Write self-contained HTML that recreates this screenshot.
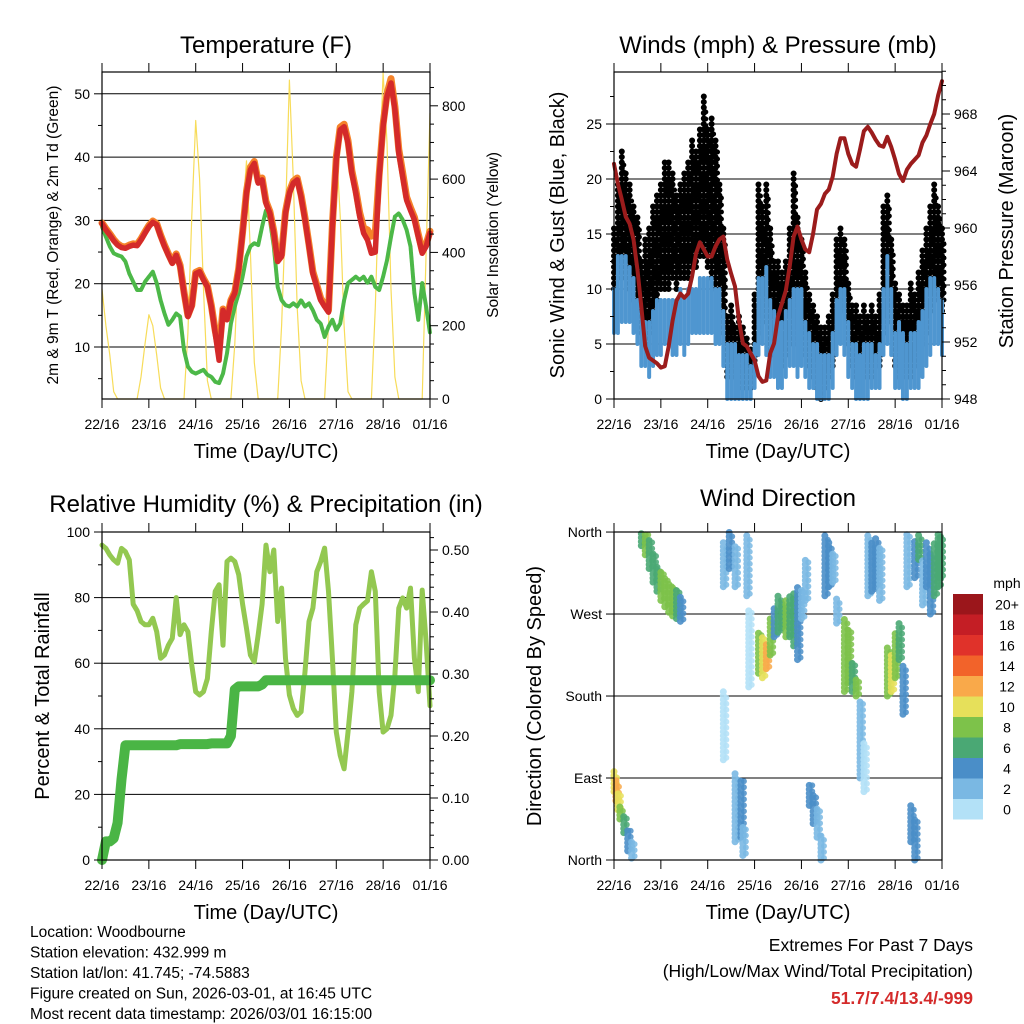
<!DOCTYPE html>
<html><head><meta charset="utf-8"><style>
html,body{margin:0;padding:0;background:#fff;}
svg{display:block;font-family:"Liberation Sans",Arial,sans-serif;}
</style></head><body>
<svg id="chart" width="1024" height="1024" viewBox="0 0 1024 1024" xmlns="http://www.w3.org/2000/svg">
<text x="266" y="53" font-size="24" text-anchor="middle">Temperature (F)</text>
<text x="778" y="53" font-size="24" text-anchor="middle">Winds (mph) &amp; Pressure (mb)</text>
<text x="266" y="512" font-size="24" text-anchor="middle">Relative Humidity (%) &amp; Precipitation (in)</text>
<text x="778" y="506" font-size="24" text-anchor="middle">Wind Direction</text>
<text transform="translate(58,235) rotate(-90)" font-size="15.5" text-anchor="middle">2m &amp; 9m T (Red, Orange) &amp; 2m Td (Green)</text>
<text transform="translate(498,235) rotate(-90)" font-size="15.5" text-anchor="middle">Solar Insolation (Yellow)</text>
<text transform="translate(564,235) rotate(-90)" font-size="20" text-anchor="middle">Sonic Wind &amp; Gust (Blue, Black)</text>
<text transform="translate(1013,231) rotate(-90)" font-size="20" text-anchor="middle">Station Pressure (Maroon)</text>
<text transform="translate(49,696) rotate(-90)" font-size="20" text-anchor="middle">Percent &amp; Total Rainfall</text>
<text transform="translate(541,696) rotate(-90)" font-size="20" text-anchor="middle">Direction (Colored By Speed)</text>
<text x="266" y="458" font-size="20" text-anchor="middle">Time (Day/UTC)</text>
<text x="778" y="458" font-size="20" text-anchor="middle">Time (Day/UTC)</text>
<text x="266" y="919" font-size="20" text-anchor="middle">Time (Day/UTC)</text>
<text x="778" y="919" font-size="20" text-anchor="middle">Time (Day/UTC)</text>
<g font-size="15.5">
<text x="30" y="937">Location: Woodbourne</text>
<text x="30" y="957.5">Station elevation: 432.999 m</text>
<text x="30" y="978">Station lat/lon: 41.745; -74.5883</text>
<text x="30" y="998.5">Figure created on Sun, 2026-03-01, at 16:45 UTC</text>
<text x="30" y="1019">Most recent data timestamp: 2026/03/01 16:15:00</text>
</g>
<text x="973" y="951" font-size="17.5" text-anchor="end">Extremes For Past 7 Days</text>
<text x="973" y="977" font-size="17.5" text-anchor="end">(High/Low/Max Wind/Total Precipitation)</text>
<text x="973" y="1004" font-size="17.5" font-weight="bold" fill="#d42a2a" text-anchor="end">51.7/7.4/13.4/-999</text>
</svg>
<script>
const dayLabels = ["22/16","23/16","24/16","25/16","26/16","27/16","28/16","01/16"];
const hours = Array.from({length:85},(_, i)=>i*2);
const tempRed = [29.5,28.5,27.7,26.8,26.1,25.7,25.6,25.9,26.1,26.0,26.9,28.0,29.0,29.7,29.3,27.5,25.9,24.5,23.2,24.5,22.7,18.5,14.8,16.4,21.6,21.9,20.6,19.5,16.4,12.2,7.9,15.8,14.3,17.2,18.5,22.2,28.0,34.3,38.0,39.0,35.9,36.4,32.7,31.1,28.0,23.5,24.3,31.1,34.3,35.9,36.4,33.7,30.1,25.9,21.6,19.5,17.4,16.4,15.5,29.0,39.6,44.3,44.8,42.2,37.4,34.3,30.6,28.0,26.9,24.8,25.0,36.9,44.8,49.6,51.7,47.5,40.6,36.9,33.2,31.6,30.1,27.4,24.8,25.9,28.0];
const tempOrange = [29.6,28.7,27.9,27.0,26.3,25.9,25.8,26.1,26.3,26.2,27.1,28.2,29.2,29.9,29.5,27.7,26.1,24.7,23.4,24.7,22.9,18.7,15.0,16.6,21.8,22.1,20.8,19.7,16.6,12.6,9.5,16.0,14.5,17.4,18.7,22.4,28.2,34.6,38.4,39.3,36.2,36.7,33.0,31.4,28.3,23.8,24.6,31.4,34.6,36.2,36.7,34.0,30.4,26.2,21.9,19.8,17.7,16.7,15.8,29.3,40.0,44.7,45.2,42.6,37.8,34.8,31.2,28.8,28.5,27.5,28.0,37.3,45.2,50.0,52.4,48.0,41.2,37.5,33.7,32.0,30.5,27.8,25.2,26.2,28.3];
const dewGreen = [29.0,27.4,25.9,24.8,24.5,24.3,23.5,21.6,20.3,19.0,19.0,20.3,21.1,21.9,20.1,17.4,15.3,13.5,14.3,15.3,14.8,9.5,6.9,6.1,5.8,6.1,6.4,5.6,5.3,4.5,4.3,5.8,9.0,13.7,16.4,18.5,21.1,24.3,25.9,26.4,26.1,29.0,31.6,30.1,25.9,19.5,17.4,16.6,16.4,16.9,16.4,17.4,16.4,16.9,15.8,14.3,13.7,11.6,13.2,14.3,12.7,13.7,17.4,20.1,20.6,21.1,20.6,21.1,20.1,21.1,19.5,19.0,21.1,23.7,27.4,30.6,31.1,30.1,28.5,25.9,18.5,14.3,20.1,16.4,12.2];
const solar = [300,200,120,20,0,0,0,0,0,0,60,150,230,200,120,30,0,0,0,0,0,0,180,500,760,600,300,50,0,0,0,0,0,0,150,400,500,650,400,100,0,0,0,0,0,0,200,500,870,600,250,50,0,0,0,0,0,0,200,550,690,500,200,20,0,0,0,0,0,0,250,600,890,700,300,60,0,0,0,0,0,0,0,400,780];
const pressure = [964.5,963.1,962.0,960.8,960.3,959.2,957.1,954.5,951.7,950.9,950.7,950.5,950.2,950.3,951.7,953.5,954.9,955.4,955.1,955.4,956.6,958.2,959.0,958.5,958.0,958.0,958.7,959.2,959.4,957.8,956.8,955.9,953.5,951.9,951.7,951.2,950.7,949.6,949.2,949.3,951.2,951.9,953.8,954.7,955.6,957.3,959.4,960.1,959.2,958.5,958.3,959.6,961.3,961.7,962.4,962.7,963.6,965.2,966.3,966.3,965.2,964.5,964.3,965.5,966.8,967.1,966.7,966.2,965.8,965.7,966.4,965.7,964.8,963.8,963.3,964.1,964.5,964.8,965.1,966.0,966.5,967.3,968.0,969.3,970.3];
const gustLo = [10,11,12,11,10,9,8,6,5,6,7,9,10,10,10,11,10,11,11,11,12,12,13,13,12,11,10,9,6,2,2,2,2,1,2,1,3,6,8,7,4,4,3,3,4,6,5,5,6,4,3,2,1,0,1,2,3,6,8,8,5,3,2,1,2,2,2,3,3,6,8,7,3,2,2,2,2,3,3,5,6,8,9,9,8];
const gustHi = [16,20,23,21,20,18,17,13,15,16,18,19,20,22,22,21,19,20,21,22,24,23,25,28,25,26,24,20,16,8,9,7,8,7,6,5,10,20,18,20,16,13,13,12,13,16,21,17,15,12,10,9,8,7,7,8,10,15,16,15,11,9,9,8,9,8,9,8,10,18,19,15,11,10,9,9,11,10,12,14,16,18,20,18,16];
const windLo = [6,6,7,7,7,6,5,3,3,2,3,4,4,5,5,4,4,5,4,5,6,6,6,6,6,6,5,5,3,0,0,0,0,0,0,0,1,4,5,4,2,2,1,1,2,3,3,2,3,2,1,1,0,0,0,0,1,4,5,4,2,1,0,0,0,0,1,1,1,4,5,4,1,1,0,0,1,1,1,2,3,4,5,5,4];
const windHi = [10,13,13,13,12,11,9,8,7,7,8,9,9,9,9,9,9,10,9,10,10,10,11,11,11,11,10,10,8,5,5,5,4,4,4,3,5,11,11,12,9,8,7,7,8,9,10,10,10,7,6,5,5,4,4,4,6,9,10,10,7,5,5,4,5,5,5,4,5,10,13,10,6,7,6,5,6,6,7,8,10,11,11,10,9];
const humidity = [96,95,93,91.5,90.5,95,94,91.5,78,76,72.7,71.7,71.7,73.7,69.6,61.5,62.5,65.5,67.6,80,68.7,71.7,69.6,59.4,51.3,50.3,51.3,55.3,69.6,81.9,83.9,65.5,91,92,91,87,78,70.6,62.5,60.4,68.7,78,96,87.9,94.5,72.7,82.9,61.5,50.3,46.2,44.1,45.2,57.4,72.7,76.8,87.9,91,95.1,81.9,61.5,39,31.9,27.8,39,51.3,71.7,76.8,78,79,87.9,81.9,51.3,39,40,44.1,56.4,76.8,79.9,76.8,82.9,61.5,51.3,82.3,66.5,47];
const precip = [0,0.03,0.03,0.035,0.06,0.13,0.185,0.185,0.185,0.185,0.185,0.185,0.185,0.185,0.185,0.185,0.185,0.185,0.185,0.185,0.187,0.187,0.187,0.187,0.187,0.187,0.187,0.187,0.188,0.188,0.188,0.188,0.188,0.20,0.275,0.28,0.28,0.28,0.28,0.28,0.28,0.283,0.29,0.29,0.29,0.29,0.29,0.29,0.29,0.29,0.29,0.29,0.29,0.29,0.29,0.29,0.29,0.29,0.29,0.29,0.29,0.29,0.29,0.29,0.29,0.29,0.29,0.29,0.29,0.29,0.29,0.29,0.29,0.29,0.29,0.29,0.29,0.29,0.29,0.29,0.29,0.29,0.29,0.29,0.29];
const dirTime = [0,1,2,3,5,7,9,14,16,18,20,22,24,26,28,30,32,34,56,56,59,62,62,65,66,68,69,74,76,78,80,82,84,86,88,90,92,94,96,98,100,102,104,106,108,110,112,114,118,120,122,124,126,128,130,132,134,136,140,142,144,146,148,150,152,154,154,156,158,160,162,164,166,167];
const dirLo = [75,65,55,45,30,10,2,345,335,320,305,295,285,278,272,268,265,262,110,300,320,300,20,25,5,290,190,205,200,210,225,245,250,255,245,245,235,220,265,285,60,40,25,0,290,300,305,260,185,195,185,180,90,75,290,295,300,285,180,185,200,220,160,300,20,310,0,330,280,300,270,290,300,310];
const dirHi = [97,88,75,62,50,35,20,360,360,355,340,325,318,310,305,300,298,290,185,350,360,345,95,90,40,360,275,250,245,240,265,280,290,285,285,290,295,300,300,330,85,75,60,30,360,350,340,290,265,255,220,200,175,130,360,350,355,345,235,225,250,260,215,360,60,350,45,360,330,350,340,350,360,355];
const dirSpeed = [11,12,10,8,6,5,3,6,8,7,7,6,8,9,9,8,7,5,1,3,4,2,3,4,2,2,1,9,10,12,8,5,6,7,8,7,6,5,3,3,5,4,3,2,4,5,3,2,8,9,7,8,2,1,3,4,4,3,9,11,8,7,4,3,4,5,4,6,2,4,5,6,7,6];
const legendLabels = ["20+","18","16","14","12","10","8","6","4","2","0"];
const legendColors = ["#9b161b","#c41e25","#e0322a","#f2632a","#f9a94a","#e6e05a","#7dc24a","#4aa874","#4a8ec8","#7ab8e3","#b3e1f7"];

const NS = "http://www.w3.org/2000/svg";
const svg = document.getElementById("chart");
function mk(tag, attrs, parent){
  const el = document.createElementNS(NS, tag);
  for (const k in attrs) el.setAttribute(k, attrs[k]);
  (parent||svg).appendChild(el);
  return el;
}
const xL = h => 102 + h*328/168;
const xR = h => 614 + h*328/168;
const yTemp = v => 347 - (v-10)*6.33;
const ySolar = v => 399 - v*0.3665;
const yWind = v => 399 - v*11;
const yPres = v => 399 - (v-948)*14.25;
const yRH = v => 860 - v*3.28;
const yPrecip = v => 860 - v*620;
const yDir = d => 860 - d*0.911;
function speedColor(s){ const i = Math.min(10, Math.floor(s/2)); return legendColors[10-i]; }

function frame(x0,y0,x1,y1,name){
  const g = mk("g",{});
  
  
  for (let i=0;i<8;i++){
    const x = x0 + i*(x1-x0)/7;
    const t1 = mk("line",{x1:x,x2:x,y1:y0,y2:y0-9,stroke:"#000","stroke-width":1},g);
    
    
    const t2 = mk("line",{x1:x,x2:x,y1:y1,y2:y1+9,stroke:"#000","stroke-width":1},g);
    
    
    const lb = mk("text",{x:x,y:y1+30,"font-size":14,"text-anchor":"middle"},g);
    
    
    lb.textContent = dayLabels[i];
  }
  return g;
}
function yAxis(vals, fy, x, side, labels, minor, name){
  const g = mk("g",{"font-size":14});
  
  
  vals.forEach((v,i)=>{
    const y = fy(v);
    const t = mk("line",{x1:x,x2:x+side*8,y1:y,y2:y,stroke:"#000"},g);
    
    
    const lb = mk("text",{x:x+side*12,y:y+5,"text-anchor":side<0?"end":"start"},g);
    
    
    lb.textContent = labels[i];
  });
  minor.forEach(v=>{
    const y = fy(v);
    const t = mk("line",{x1:x,x2:x+side*4,y1:y,y2:y,stroke:"#000"},g);
    
    
  });
}
function grid(ys, x0, x1, name){
  ys.forEach(y=>{
    const l = mk("line",{x1:x0,x2:x1,y1:y,y2:y,stroke:"#000","stroke-width":1});
    
    
  });
}
function path(xs, ys, attrs, name){
  let d = "";
  xs.forEach((x,i)=>{ d += (i?"L":"M")+x.toFixed(1)+","+ys[i].toFixed(1); });
  const p = mk("path", Object.assign({d:d,fill:"none","stroke-linejoin":"round","stroke-linecap":"round"},attrs));
  
  
  return p;
}

// ---- Panel 1: temperature
grid([10,20,30,40,50].map(yTemp),102,430,'temp-gridline');
path(hours.map(xL), solar.map(ySolar), {stroke:"#f7dc5a","stroke-width":1.2}, 'solar-line');
path(hours.map(xL), dewGreen.map(yTemp), {stroke:"#4cb848","stroke-width":4,"stroke-dasharray":"3 1"}, 'dewpoint-line');
path(hours.map(xL), tempOrange.map(yTemp), {stroke:"#f5822a","stroke-width":7}, 'temp-9m-line');
path(hours.map(xL), tempRed.map(yTemp), {stroke:"#d42a2a","stroke-width":5.5}, 'temp-2m-line');
let r1 = mk("rect",{x:102,y:72,width:328,height:327,fill:"none",stroke:"#000","stroke-width":1.2});


frame(102,72,430,399,'temp-x-axis');
yAxis([10,20,30,40,50],yTemp,102,-1,["10","20","30","40","50"],[5,15,25,35,45],'temp-left-axis');
yAxis([0,200,400,600,800],ySolar,430,1,["0","200","400","600","800"],[50,100,150,250,300,350,450,500,550,650,700,750,850],'solar-right-axis');

// ---- Panel 2: winds
grid([5,10,15,20,25].map(yWind),614,942,'wind-gridline');
hours.forEach((h,i)=>{
  const g = mk("line",{x1:xR(h),x2:xR(h),y1:yWind(gustLo[i]),y2:yWind(gustHi[i]),stroke:"#000","stroke-width":6,"stroke-linecap":"round","stroke-dasharray":"0 5.5"});
  
  
});
hours.forEach((h,i)=>{
  const g = mk("line",{x1:xR(h)+2,x2:xR(h)+2,y1:yWind(gustLo[i]+1),y2:yWind(gustHi[i]-1.5),stroke:"#000","stroke-width":5,"stroke-linecap":"round","stroke-dasharray":"0 7"});
  
  
});
hours.forEach((h,i)=>{
  const w = mk("line",{x1:xR(h),x2:xR(h),y1:yWind(windLo[i]),y2:yWind(windHi[i]),stroke:"#4f96d0","stroke-width":4,"stroke-linecap":"round"});
  
  
});
path(hours.map(xR), pressure.map(yPres), {stroke:"#9b1c1c","stroke-width":4}, 'pressure-line');
let r2 = mk("rect",{x:614,y:72,width:328,height:327,fill:"none",stroke:"#000","stroke-width":1.2});


frame(614,72,942,399,'wind-x-axis');
yAxis([0,5,10,15,20,25],yWind,614,-1,["0","5","10","15","20","25"],[2.5,7.5,12.5,17.5,22.5,27.5],'wind-left-axis');
yAxis([948,952,956,960,964,968],yPres,942,1,["948","952","956","960","964","968"],[949,950,951,953,954,955,957,958,959,961,962,963,965,966,967,969,970,971],'pressure-right-axis');

// ---- Panel 3: humidity
grid([20,40,60,80].map(yRH),102,430,'humidity-gridline');
path(hours.map(xL), humidity.map(yRH), {stroke:"#93c851","stroke-width":5}, 'humidity-line');
path(hours.map(xL), precip.map(yPrecip), {stroke:"#4ab545","stroke-width":10}, 'precip-line');
let r3 = mk("rect",{x:102,y:532,width:328,height:328,fill:"none",stroke:"#000","stroke-width":1.2});


frame(102,532,430,860,'humidity-x-axis');
yAxis([0,20,40,60,80,100],yRH,102,-1,["0","20","40","60","80","100"],[10,30,50,70,90],'humidity-left-axis');
yAxis([0,0.1,0.2,0.3,0.4,0.5],yPrecip,430,1,["0.00","0.10","0.20","0.30","0.40","0.50"],[0.02,0.04,0.06,0.08,0.12,0.14,0.16,0.18,0.22,0.24,0.26,0.28,0.32,0.34,0.36,0.38,0.42,0.44,0.46,0.48,0.52],'precip-right-axis');

// ---- Panel 4: wind direction
grid([90,180,270].map(yDir),614,942,'direction-gridline');
dirTime.forEach((t,i)=>{
  const s = mk("line",{x1:xR(t),x2:xR(t),y1:yDir(dirLo[i]),y2:yDir(dirHi[i]),stroke:speedColor(dirSpeed[i]),"stroke-width":7,"stroke-linecap":"round","stroke-dasharray":"0 4","stroke-opacity":0.9});
  
  
  const s2 = mk("line",{x1:xR(t)+3,x2:xR(t)+3,y1:yDir(dirLo[i])-2,y2:yDir(dirHi[i])+2,stroke:speedColor(dirSpeed[i]),"stroke-width":6,"stroke-linecap":"round","stroke-dasharray":"0 6","stroke-opacity":0.85});
  
  
});
let r4 = mk("rect",{x:614,y:532,width:328,height:328,fill:"none",stroke:"#000","stroke-width":1.2});


frame(614,532,942,860,'direction-x-axis');
yAxis([0,90,180,270,360],yDir,614,-1,["North","East","South","West","North"],[],'direction-left-axis');

// legend
const lg = mk("g",{});


const lt = mk("text",{x:1007,y:588,"font-size":14,"text-anchor":"middle"},lg);


lt.textContent = "mph";
legendLabels.forEach((lab,i)=>{
  const y = 594 + i*20.5;
  const r = mk("rect",{x:953,y:y,width:30,height:20.5,fill:legendColors[i]},lg);
  
  
  const t = mk("text",{x:1007,y:y+15.5,"font-size":14,"text-anchor":"middle"},lg);
  
  
  t.textContent = lab;
});
</script>
</body></html>
